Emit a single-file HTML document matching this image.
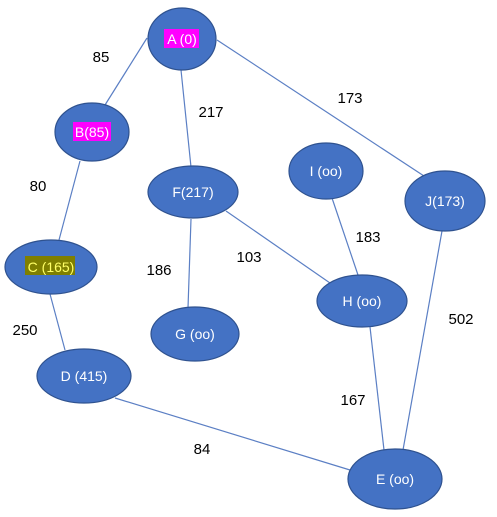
<!DOCTYPE html>
<html><head><style>body{margin:0;background:#fff}svg{display:block}</style></head><body>
<svg width="497" height="517" xmlns="http://www.w3.org/2000/svg" font-family="Liberation Sans, sans-serif">
<g stroke="#5b7fc4" stroke-width="1.2">
<line x1="147" y1="38" x2="105" y2="105"/>
<line x1="181" y1="70" x2="191" y2="167"/>
<line x1="217" y1="40" x2="424" y2="176"/>
<line x1="80" y1="161" x2="59" y2="240"/>
<line x1="191" y1="219" x2="188" y2="308"/>
<line x1="226" y1="211" x2="330" y2="283"/>
<line x1="332" y1="198" x2="358" y2="275"/>
<line x1="442" y1="231" x2="403" y2="450"/>
<line x1="370" y1="327" x2="384" y2="450"/>
<line x1="50" y1="294" x2="65" y2="350"/>
<line x1="115" y1="398" x2="350" y2="470"/>
</g>
<g fill="#4472c4" stroke="#2f528f" stroke-width="1.2">
<ellipse cx="182" cy="39" rx="34" ry="31"/>
<ellipse cx="92" cy="132" rx="37" ry="29"/>
<ellipse cx="193" cy="192" rx="45" ry="26"/>
<ellipse cx="51" cy="267" rx="46" ry="27"/>
<ellipse cx="326" cy="171" rx="37" ry="28"/>
<ellipse cx="445" cy="201" rx="40" ry="30"/>
<ellipse cx="362" cy="301" rx="45" ry="26"/>
<ellipse cx="195" cy="334" rx="44" ry="27"/>
<ellipse cx="84" cy="376" rx="47" ry="27"/>
<ellipse cx="395" cy="479" rx="47" ry="30"/>
</g>
<rect x="164" y="29" width="35" height="19" fill="#f0f"/>
<rect x="73" y="122" width="38" height="19" fill="#f0f"/>
<rect x="25" y="256" width="50" height="19" fill="#7f7f00"/>
<g fill="#fff" font-size="14" text-anchor="middle">
<text x="182" y="44">A (0)</text>
<text x="92" y="137">B(85)</text>
<text x="193" y="197">F(217)</text>
<text x="51" y="272" fill="#ffff66">C (165)</text>
<text x="326" y="176">I (oo)</text>
<text x="445" y="206">J(173)</text>
<text x="362" y="306">H (oo)</text>
<text x="195" y="339">G (oo)</text>
<text x="84" y="381">D (415)</text>
<text x="395" y="484">E (oo)</text>
</g>
<g fill="#000" font-size="15" text-anchor="middle">
<text x="101" y="62">85</text>
<text x="211" y="117">217</text>
<text x="350" y="103">173</text>
<text x="38" y="191">80</text>
<text x="159" y="275">186</text>
<text x="249" y="262">103</text>
<text x="368" y="242">183</text>
<text x="461" y="324">502</text>
<text x="25" y="335">250</text>
<text x="353" y="405">167</text>
<text x="202" y="454">84</text>
</g>
</svg>
</body></html>
